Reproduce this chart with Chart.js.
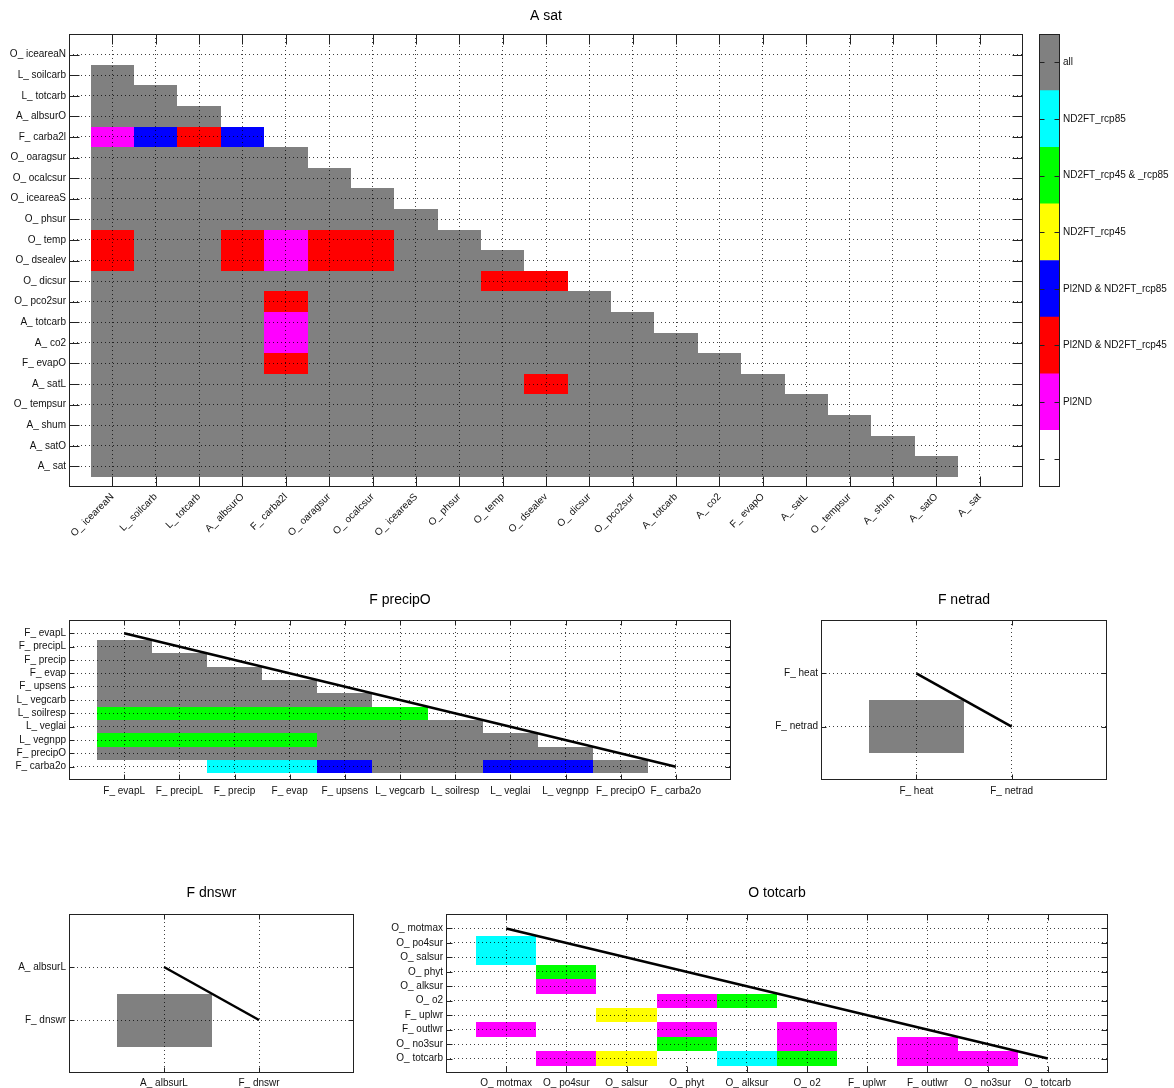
<!DOCTYPE html>
<html>
<head>
<meta charset="utf-8">
<script src="https://cdn.jsdelivr.net/npm/chart.js@4.4.1/dist/chart.umd.min.js"></script>
<style>
  body { margin: 0; background: #fff; width: 1174px; height: 1088px; position: relative; overflow: hidden; }
  canvas { position: absolute; }
</style>
</head>
<body>
<canvas id="satChart"></canvas>
<canvas id="barChart"></canvas>
<canvas id="precipChart"></canvas>
<canvas id="netradChart"></canvas>
<canvas id="dnswrChart"></canvas>
<canvas id="totcarbChart"></canvas>
<script>
// ---- data ----
// cell codes: g=all, c=ND2FT_rcp85, G=ND2FT_rcp45 & _rcp85, y=ND2FT_rcp45,
// b=Pl2ND & ND2FT_rcp85, r=Pl2ND & ND2FT_rcp45, m=Pl2ND, .=none
const satLabels = ["O_ iceareaN", "L_ soilcarb", "L_ totcarb", "A_ albsurO", "F_ carba2l",
    "O_ oaragsur", "O_ ocalcsur", "O_ iceareaS", "O_ phsur", "O_ temp", "O_ dsealev",
    "O_ dicsur", "O_ pco2sur", "A_ totcarb", "A_ co2", "F_ evapO", "A_ satL",
    "O_ tempsur", "A_ shum", "A_ satO", "A_ sat"];
const satCells = [
    "",
    "g",
    "gg",
    "ggg",
    "mbrb",
    "ggggg",
    "gggggg",
    "ggggggg",
    "gggggggg",
    "rggrmrrgg",
    "rggrmrrggg",
    "gggggggggrr",
    "ggggrggggggg",
    "ggggmgggggggg",
    "ggggmggggggggg",
    "ggggrgggggggggg",
    "ggggggggggrggggg",
    "ggggggggggggggggg",
    "gggggggggggggggggg",
    "ggggggggggggggggggg",
    "gggggggggggggggggggg"
];

const precipLabels = ["F_ evapL", "F_ precipL", "F_ precip", "F_ evap", "F_ upsens",
    "L_ vegcarb", "L_ soilresp", "L_ veglai", "L_ vegnpp", "F_ precipO", "F_ carba2o"];
const precipCells = [
    "",
    "g",
    "gg",
    "ggg",
    "gggg",
    "ggggg",
    "GGGGGG",
    "ggggggg",
    "GGGGgggg",
    "ggggggggg",
    "..ccbggbbg"
];
const precipLine = [{ x: 0, y: 0 }, { x: 10, y: 10 }];

const netradLabels = ["F_ heat", "F_ netrad"];
const netradCells = ["", "g"];
const netradLine = [{ x: 0, y: 0 }, { x: 1, y: 1 }];

const dnswrLabels = ["A_ albsurL", "F_ dnswr"];
const dnswrCells = ["", "g"];
const dnswrLine = [{ x: 0, y: 0 }, { x: 1, y: 1 }];

const totcarbLabels = ["O_ motmax", "O_ po4sur", "O_ salsur", "O_ phyt", "O_ alksur",
    "O_ o2", "F_ uplwr", "F_ outlwr", "O_ no3sur", "O_ totcarb"];
const totcarbCells = [
    "",
    "c",
    "c",
    ".G",
    ".m",
    "...mG",
    "..y",
    "m..m.m",
    "...G.m.m",
    ".my.cG.mm"
];
const totcarbLine = [{ x: 0, y: 0 }, { x: 9, y: 9 }];

// colour bar, bottom to top
const barNames = ["", "Pl2ND", "Pl2ND & ND2FT_rcp45", "Pl2ND & ND2FT_rcp85",
    "ND2FT_rcp45", "ND2FT_rcp45 & _rcp85", "ND2FT_rcp85", "all"];
const barColors = ["#ffffff", "#ff00ff", "#ff0000", "#0000ff",
    "#ffff00", "#00ff00", "#00ffff", "#808080"];

const cellColors = { g: "#808080", c: "#00ffff", G: "#00ff00", y: "#ffff00",
    b: "#0000ff", r: "#ff0000", m: "#ff00ff" };

Chart.defaults.font.family = "'Liberation Sans', Arial, sans-serif";
Chart.defaults.font.size = 10;
Chart.defaults.color = "#111";

// draws the matrix cells (under the grid) and the box with inward ticks
const cellPlugin = {
    id: "cells",
    beforeDraw(chart, args, opts) {
        if (!opts.rows) return;
        const { ctx } = chart;
        const x = chart.scales.x, y = chart.scales.y;
        ctx.save();
        opts.rows.forEach((row, r) => {
            [...row].forEach((code, c) => {
                const col = cellColors[code];
                if (!col) return;
                const x0 = Math.round(x.getPixelForValue(c - 0.5));
                const x1 = Math.round(x.getPixelForValue(c + 0.5));
                const y0 = Math.round(y.getPixelForValue(r - 0.5));
                const y1 = Math.round(y.getPixelForValue(r + 0.5));
                ctx.fillStyle = col;
                ctx.fillRect(x0, Math.min(y0, y1), x1 - x0, Math.abs(y1 - y0));
            });
        });
        ctx.restore();
    },
    afterDraw(chart, args, opts) {
        const { ctx, chartArea: a } = chart;
        const len = opts.tickLen || 5;
        const L = Math.round(a.left) + 0.5, R = Math.round(a.right) - 0.5;
        const T = Math.round(a.top) + 0.5, B = Math.round(a.bottom) - 0.5;
        ctx.save();
        ctx.strokeStyle = "#222";
        ctx.lineWidth = 1;
        ctx.beginPath();
        Object.values(chart.scales).forEach(s => {
            if (!s.options.display) return;
            s.ticks.forEach(t => {
                const p = Math.round(s.getPixelForValue(t.value)) + 0.5;
                if (s.isHorizontal()) {
                    ctx.moveTo(p, T); ctx.lineTo(p, T + len);
                    ctx.moveTo(p, B); ctx.lineTo(p, B - len);
                } else {
                    ctx.moveTo(L, p); ctx.lineTo(L + len, p);
                    ctx.moveTo(R, p); ctx.lineTo(R - len, p);
                }
            });
        });
        ctx.stroke();
        ctx.strokeRect(L, T, R - L, B - T);
        ctx.restore();
    }
};

function axis(labels, extra) {
    return Object.assign({
        type: "linear",
        min: -1,
        max: labels.length,
        afterBuildTicks: s => { s.ticks = labels.map((_, i) => ({ value: i })); },
        ticks: { autoSkip: false, padding: 3, callback: v => labels[v] ?? "" },
        grid: { color: "rgba(0,0,0,0.75)", lineWidth: 1, drawTicks: false },
        border: { display: false, dash: [1, 3] }
    }, extra);
}

function makePanel(id, box, cfg) {
    const cv = document.getElementById(id);
    cv.width = box.w; cv.height = box.h;
    cv.style.left = box.l + "px"; cv.style.top = box.t + "px";
    const xs = axis(cfg.labels, {});
    xs.afterFit = s => { s.height = cfg.xH; };
    xs.ticks = Object.assign({}, xs.ticks, { padding: cfg.xPad, maxRotation: cfg.rot, minRotation: cfg.rot });
    const ys = axis(cfg.labels, { reverse: true });
    ys.afterFit = s => { s.width = cfg.yW; };
    return new Chart(cv, {
        type: "scatter",
        data: {
            datasets: cfg.line ? [{
                data: cfg.line,
                showLine: true,
                borderColor: "#000",
                borderWidth: 2.5,
                pointRadius: 0
            }] : []
        },
        options: {
            responsive: false,
            animation: false,
            layout: { padding: { left: 0, right: 12, top: 0, bottom: 0 } },
            scales: { x: xs, y: ys },
            plugins: {
                legend: { display: false },
                tooltip: { enabled: false },
                title: {
                    display: true,
                    text: cfg.title,
                    fullSize: false,
                    color: "#000",
                    font: { size: 14, weight: "normal", lineHeight: 1 },
                    padding: { top: cfg.tPad[0], bottom: cfg.tPad[1] }
                },
                cells: { rows: cfg.cells, tickLen: cfg.tickLen }
            }
        },
        plugins: [cellPlugin]
    });
}

makePanel("satChart", { l: 0, t: 0, w: 1035, h: 577 },
    { labels: satLabels, cells: satCells, title: "A sat", tPad: [9, 11],
      xH: 90, yW: 69, xPad: 4, rot: 45, tickLen: 10 });
makePanel("precipChart", { l: 0, t: 585, w: 743, h: 225 },
    { labels: precipLabels, cells: precipCells, line: precipLine, title: "F precipO",
      tPad: [8, 13], xH: 30, yW: 69, xPad: 5, rot: 0, tickLen: 5 });
makePanel("netradChart", { l: 752, t: 585, w: 367, h: 225 },
    { labels: netradLabels, cells: netradCells, line: netradLine, title: "F netrad",
      tPad: [8, 13], xH: 30, yW: 69, xPad: 5, rot: 0, tickLen: 5 });
makePanel("dnswrChart", { l: 0, t: 878, w: 366, h: 210 },
    { labels: dnswrLabels, cells: dnswrCells, line: dnswrLine, title: "F dnswr",
      tPad: [8, 14], xH: 15, yW: 69, xPad: 4, rot: 0, tickLen: 5 });
makePanel("totcarbChart", { l: 376, t: 878, w: 744, h: 210 },
    { labels: totcarbLabels, cells: totcarbCells, line: totcarbLine, title: "O totcarb",
      tPad: [8, 14], xH: 15, yW: 70, xPad: 4, rot: 0, tickLen: 6 });

// colour bar
const barCv = document.getElementById("barChart");
barCv.width = 135; barCv.height = 497;
barCv.style.left = "1039px"; barCv.style.top = "0px";
new Chart(barCv, {
    type: "bar",
    data: {
        labels: [""],
        datasets: barNames.map((n, i) => ({
            label: n,
            data: [1],
            backgroundColor: barColors[i],
            borderWidth: 0,
            barPercentage: 1,
            categoryPercentage: 1
        }))
    },
    options: {
        responsive: false,
        animation: false,
        layout: { padding: { left: 0, right: 0, top: 34, bottom: 10 } },
        scales: {
            x: { display: false, stacked: true },
            y: {
                position: "right",
                stacked: true,
                min: 0,
                max: barNames.length,
                afterBuildTicks: s => { s.ticks = barNames.map((_, i) => ({ value: i + 0.5 })); },
                afterFit: s => { s.width = 114; },
                ticks: { autoSkip: false, padding: 3, callback: v => barNames[Math.floor(v)] },
                grid: { display: false, drawTicks: false },
                border: { display: false }
            }
        },
        plugins: {
            legend: { display: false },
            tooltip: { enabled: false },
            cells: { tickLen: 5 }
        }
    },
    plugins: [cellPlugin]
});
</script>
</body>
</html>
